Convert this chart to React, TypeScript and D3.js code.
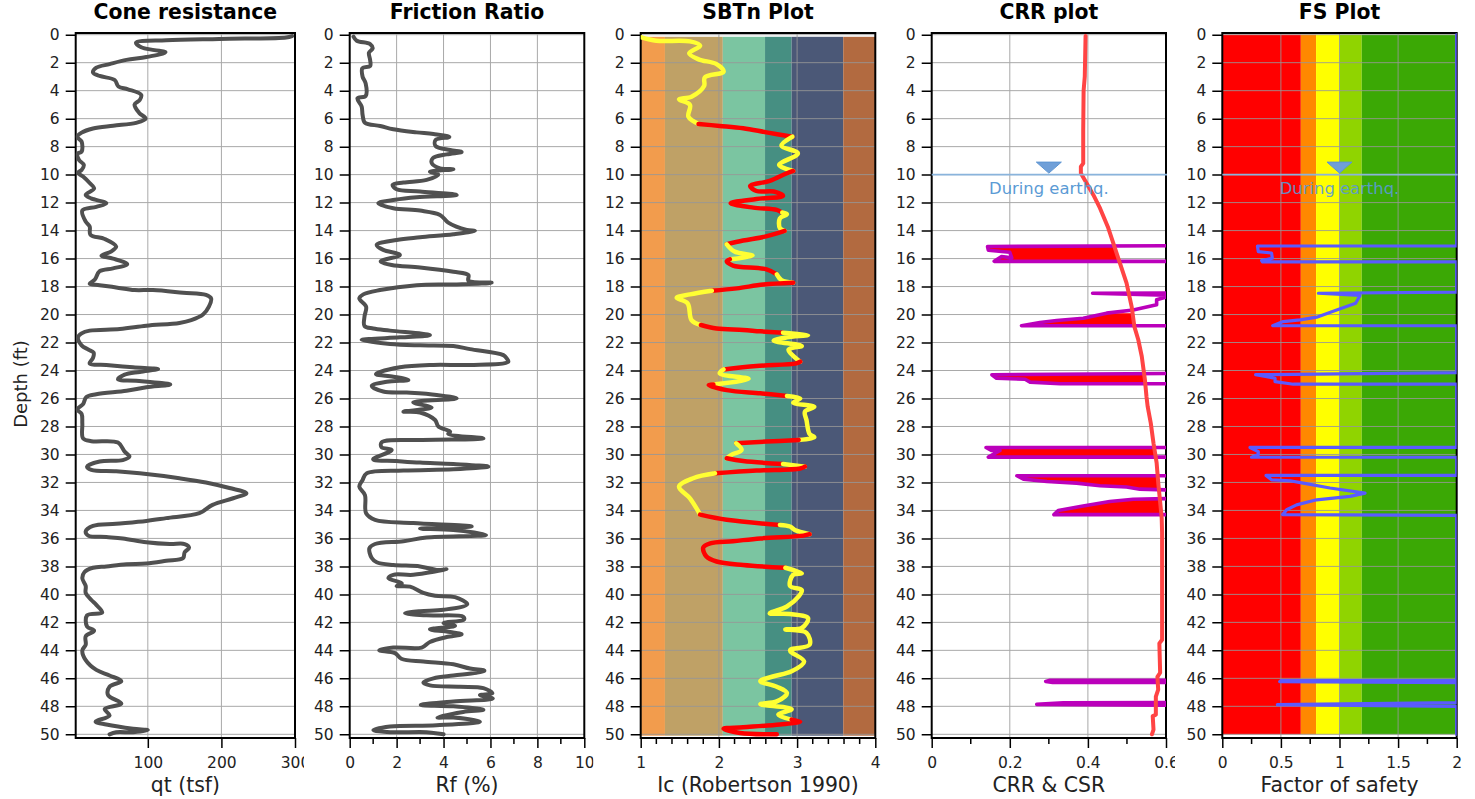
import React, { useEffect, useRef } from "react";
import * as d3 from "d3";

// traces are [value, depth ft] pairs
const qtTrace = [
  [296,0.1],[288,0.2],[197,0.3],[125,0.4],[84,0.57],[91,0.9],[109,1.1],[124,1.26],[98,1.6],[71,1.8],[48,2.1],[30,2.36],[25.5,2.7],[34.5,2.95],[55,3.24],[60,3.7],[73,3.9],[91,4.3],[89,4.67],[82,5],[88,5.57],[97,6],[84,6.3],[53,6.5],[25.5,6.7],[10,7],[4,7.3],[10,7.64],[10,8.36],[4.3,8.5],[6.5,8.95],[13,9.3],[10,9.67],[5,9.86],[12,10.14],[21,10.6],[27,11],[15.6,11.45],[23,11.7],[43.6,12.05],[30,12.3],[11,12.57],[15.6,13.36],[21,13.7],[22,14.3],[41.4,14.6],[57,15.14],[50,15.5],[37,15.8],[52.7,16],[72,16.4],
  [52.7,16.7],[34.6,16.9],[28,17.5],[21,17.8],[34.5,17.9],[57,18.06],[82,18.25],[107,18.25],[148,18.44],[179,18.6],[186,18.85],[183,19.44],[175,20],[159,20.4],[143,20.6],[98,20.8],[62,21.04],[21,21.15],[10,21.35],[5,21.63],[10,22.2],[19,22.5],[26.4,22.73],[25.5,23.1],[21,23.5],[43.6,23.6],[80,23.77],[114,23.9],[89,24.1],[68.5,24.3],[59.5,24.63],[84,24.73],[130.5,25],[98,25.2],[71,25.45],[30,25.7],[16.5,25.9],[12,26.4],[4,26.8],[10,27.1],[11,27.8],[12,28.85],[23.3,29.05],[59.5,29.15],[68.5,29.8],[75,30.15],[66,30.4],[34.6,30.5],[17.4,30.87],[23.3,31.1],[57,31.2],[89,31.35],[143,31.7],[179,32],[211,32.4],[234,32.77],[216,33.13],[188,33.6],[170,34.2],[125,34.55],[98,34.75],[57,34.95],[25.5,35.1],
  [15.6,35.5],[19,35.8],[43.6,35.9],[66,36],[98,36.27],[130,36.4],[150,36.4],[156,36.66],[150,37],[148,37.4],[125,37.6],[98,37.8],[71,37.85],[43.6,38],[25.5,38.1],[14,38.4],[11,38.85],[15.6,39.4],[15.6,39.9],[23.3,40.4],[30,40.75],[38,41.3],[17.4,41.5],[17.4,42.3],[27,42.6],[15.6,43],[15.6,43.6],[11,44],[15.6,44.7],[30,45.4],[48,45.8],[64,46.2],[48,46.6],[46,47.2],[64,47.8],[41.4,48.2],[48,48.65],[29,49.1],[43.6,49.3],[80,49.6],[100,49.7],[80,49.85],[57,49.85],[48,50],
];

const rfTrace = [
  [0.16,0.14],[0.3,0.43],[0.87,0.67],[0.98,0.98],[0.82,1.29],[0.87,1.8],[0.87,2.24],[0.54,2.4],[0.55,3],[0.68,3.48],[0.68,4.38],[0.33,4.55],[0.51,5.14],[0.55,5.74],[0.65,6.29],[1.3,6.52],[1.86,6.76],[2.85,6.98],[3.57,7.1],[4.25,7.31],[3.66,7.52],[3.66,7.95],[4.28,8.24],[4.77,8.38],[4.13,8.55],[3.54,8.83],[3.5,9.19],[3.85,9.55],[4.42,9.62],[3.42,9.79],[3.78,10],[3.28,10.38],[2.29,10.57],[1.83,10.74],[2,11.05],[3,11.2],[4.56,11.45],[2.86,11.62],[1.93,11.8],[1.22,12.05],[1.86,12.4],[3,12.57],[3.85,12.88],[4.2,13.43],[4.99,13.95],[5.34,14.02],[4.42,14.26],[3,14.48],[2,14.67],[1.15,15.02],[1.43,15.38],[2.14,15.74],[1.32,16.2],
  [1.79,16.46],[3,16.63],[4.42,16.94],[5.06,17.18],[5.06,17.58],[6.05,17.73],[4.42,17.85],[2.86,17.9],[1.29,18.25],[0.58,18.56],[0.41,18.85],[0.7,19.44],[0.63,20.15],[0.63,20.82],[1,21],[1.72,21.15],[3.42,21.47],[2.14,21.63],[0.51,21.83],[1.72,22.1],[3,22.2],[4.42,22.25],[5.13,22.47],[6.55,22.9],[6.69,23.13],[6.76,23.37],[5.13,23.6],[3.57,23.6],[2.14,23.77],[1.12,24.25],[1.86,24.44],[2.5,24.68],[1.58,24.8],[0.94,25.1],[1.43,25.5],[2.43,25.58],[3.71,25.75],[4.56,26],[2.71,26.27],[3.49,26.65],[2.29,26.94],[3,27],[3.64,27.54],[3.78,28],[4.28,28.37],[4.2,28.53],[5.7,28.85],[3,28.96],[1.36,29.13],[1.36,29.49],[1.79,29.68],[1,30.35],[2,30.47],[3,30.58],[4.42,30.68],[5.91,30.87],[4.42,31.06],[2.29,31.15],[0.72,31.35],[0.55,31.82],[0.41,32.3],[0.65,32.9],[0.7,34.2],[1.08,34.67],[2.71,34.9],[5.2,35.15],[3,35.3],[4.42,35.4],[5.81,35.75],
  [3.28,35.94],[2.29,36.2],[1.08,36.4],[0.84,36.7],[0.94,37.4],[1.15,37.7],[1.86,37.9],[3,38],[3.71,38.25],[4.13,38.2],[2.71,38.6],[1.86,38.6],[1.65,38.85],[2.22,39.2],[2,39.4],[2.57,39.45],[3.14,39.9],[3.64,40.1],[4.49,40.2],[5.01,40.7],[4,41.1],[3,41.2],[2.36,41.35],[3.28,41.5],[4.84,41.6],[4.87,41.8],[4,42.05],[4.49,42.25],[3.42,42.5],[4.35,42.7],[4.77,42.85],[4.13,43.05],[3.42,43.4],[3.07,43.8],[1.86,43.8],[1.26,44],[1.93,44.2],[2.2,44.6],[3.14,44.8],[4.42,45],[5.13,45.3],[5.74,45.45],[5.4,45.6],[4.42,45.8],[3.57,46],[3.14,46.3],[3.42,46.5],[4.7,46.6],[5.7,46.7],[6.08,47.07],[5.55,47.2],[6.1,47.45],[4.42,47.65],[3.03,47.9],[4.42,48],[5.7,48.25],[4.84,48.4],[3.74,48.8],[4.42,48.8],[5.55,49.1],[3.7,49.35],[1.72,49.45],[1.01,49.7],[1.72,49.85],[3.28,49.85],[4,50],
];

const icTrace = [
  [1.01,0.19],[1.2,0.43],[1.63,0.48],[1.76,0.79],[1.62,1.33],[1.74,1.76],[1.97,2.1],[2.06,2.64],[1.82,3.05],[1.81,3.67],[1.65,4.43],[1.49,4.62],[1.63,5.02],[1.61,5.86],[1.74,6.38],[2.01,6.52],[2.31,6.69],[2.61,6.98],[2.94,7.29],[2.8,7.93],[3.01,8.48],[2.77,9.31],[2.95,9.74],[2.87,9.9],[2.65,10.45],[2.4,10.81],[2.48,11.17],[2.7,11.21],[2.82,11.52],[2.48,11.74],[2.15,12.05],[2.44,12.36],[2.74,12.52],[2.81,12.71],[2.87,12.83],[2.78,13.12],[2.78,13.83],[2.84,14.02],[2.59,14.43],[2.31,14.71],[2.1,14.98],[2.2,15.5],[2.43,15.79],[2.14,16.05],[2.1,16.2],[2.18,16.5],[2.61,16.77],[2.74,17.13],[2.8,17.54],[2.95,17.73],[2.57,17.86],[2.23,18.13],[1.91,18.3],[1.63,18.56],[1.46,18.8],[1.6,19.2],[1.65,20.4],[1.77,20.75],[1.97,21],[2.31,21.1],[2.53,21.2],[2.82,21.3],[3.14,21.47],[2.87,21.63],[2.7,21.87],[3.06,22.25],[2.89,22.5],[3.04,23.37],[2.99,23.49],[2.48,23.68],[2.06,23.92],[2.01,24.2],[2.38,24.6],[1.93,25],[1.87,25.04],[2.1,25.4],[2.53,25.63],[2.87,25.82],[3.04,26],[2.95,26.3],[3.22,26.6],[3.1,26.94],[3.12,27.54],[3.16,28.54],[3.22,28.77],[3.02,28.96],[2.61,29.08],[2.22,29.2],[2.29,29.68],[2.16,30.03],[2.1,30.27],[2.31,30.47],[2.82,30.68],[3.1,30.87],[3.04,31],[2.48,31.15],[1.95,31.35],[1.67,31.7],[1.49,32.3],[1.63,33.13],[1.76,34.3],[2.1,34.67],[2.78,35.04],[2.91,35.15],[2.97,35.4],[3.16,35.7],[3.08,35.8],[2.53,36],[2.18,36.2],[1.89,36.35],[1.8,36.65],[1.84,37.3],[1.97,37.65],[2.31,37.9],[2.85,38.1],[3.06,38.5],[2.95,38.6],[2.91,39.4],[3.06,39.7],[3.02,40.15],[2.87,40.87],[2.65,41.35],[2.91,41.4],[3.14,41.7],[3.06,42.4],[2.85,42.5],[3.12,42.75],[3.16,43.6],[2.91,44],[3.09,44.8],[2.93,45.5],[2.69,45.87],[2.53,46.2],[2.74,46.6],[2.87,47.05],[2.74,47.65],[2.53,47.85],[2.93,48.2],[2.76,48.6],[2.93,48.95],[3.04,49.1],[2.78,49.3],[2.31,49.5],[2.06,49.6],[2.27,49.9],[2.74,50],
];

// depth ranges where the Ic trace is red, yellow everywhere else
const icRedRanges = [[6.38,7.29],[9.74,12.71],[14.02,14.98],[16.05,17.13],[17.73,18.3],[20.75,21.3],[23.37,23.92],[25,25.82],[28.96,29.2],[30.27,30.68],[30.87,31.35],[34.3,35.04],[35.7,38.1],[48.95,50]];

const csrTrace = [
  [0.394,0.1],[0.392,3],[0.389,4],[0.388,6.8],[0.388,9.2],[0.382,9.43],[0.382,9.9],[0.392,10.38],[0.414,11.45],[0.431,12.4],[0.452,13.8],[0.465,14.9],[0.482,16.33],[0.499,17.76],[0.512,19.43],[0.519,20.86],[0.529,21.8],[0.538,23],[0.546,24.67],[0.55,25.86],[0.553,26.57],[0.561,27.76],[0.568,29.2],[0.576,30.6],[0.58,32],[0.585,33.4],[0.589,34.55],[0.59,35.6],[0.59,43.24],[0.583,43.5],[0.585,45.6],[0.578,45.9],[0.58,46.8],[0.574,47.3],[0.574,48.6],[0.566,48.7],[0.568,49.67],[0.564,50],
];

// 0.7 stands for values that run off the 0-0.6 axis
const crrTrace = [
  [0.7,15.07],[0.143,15.14],[0.145,15.4],[0.2,15.55],[0.205,15.95],[0.179,15.85],[0.16,16.2],[0.7,16.2],
  [0.7,18.45],[0.412,18.48],[0.7,18.7],[0.6,18.75],[0.576,18.95],[0.576,19.3],[0.516,19.67],[0.448,19.9],[0.388,20.26],[0.32,20.43],[0.277,20.57],[0.23,20.8],[0.7,20.8],
  [0.7,24.2],[0.154,24.3],[0.166,24.55],[0.239,24.62],[0.252,24.83],[0.329,24.95],[0.7,24.95],
  [0.7,29.5],[0.139,29.5],[0.154,29.72],[0.175,29.72],[0.145,30.19],[0.7,30.19],
  [0.7,31.52],[0.218,31.52],[0.235,31.76],[0.295,31.93],[0.371,32.05],[0.431,32.24],[0.499,32.33],[0.533,32.48],[0.7,32.6],
  [0.7,33.1],[0.516,33.2],[0.456,33.36],[0.384,33.7],[0.324,34],[0.313,34.3],[0.7,34.3],
  [0.7,46.14],[0.303,46.14],[0.292,46.22],[0.31,46.3],[0.7,46.3],
  [0.7,47.72],[0.337,47.74],[0.269,47.86],[0.7,47.94],
];

const fsTrace = [
  [2,0],[2,15.1],[0.3,15.1],[0.307,15.5],[0.42,15.6],[0.427,15.98],[0.335,16.14],[0.344,16.24],[2,16.24],[2,18.4],[0.82,18.48],[1.175,18.64],[1.138,19.2],[0.976,19.67],[0.805,20.19],[0.663,20.38],[0.52,20.5],[0.43,20.8],[2,20.8],[2,24.15],[0.284,24.3],[0.45,24.55],[0.45,24.8],[0.606,24.98],[2,24.98],[2,29.5],[0.236,29.5],[0.307,29.8],[0.307,30],[0.25,30.2],[2,30.2],[2,31.5],[0.373,31.5],[0.42,31.81],[0.578,31.88],[0.69,32.05],[0.919,32.4],[1.218,32.76],[1.09,33],[0.805,33.24],[0.634,33.6],[0.549,33.95],[0.515,34.3],[2,34.35],[2,46.14],[0.5,46.16],[0.49,46.24],[2,46.3],[2,47.74],[0.47,47.88],[2,48],[2,50],
];

const icBandEdges = [1, 1.31, 2.05, 2.59, 2.93, 3.59, 4];
const icBandColors = ["#f29c4d", "#bfa166", "#7bc5a1", "#468f82", "#4b5877", "#b26a40"];
const fsBandEdges = [0, 0.67, 0.8, 1, 1.19, 2];
const fsBandColors = ["#ff0000", "#ff8800", "#ffff00", "#90d400", "#3ba805"];

const depthTicks = d3.range(0, 51, 2);
const waterDepth = 10;

const FONT = "'DejaVu Sans', Verdana, sans-serif";
const TOP = 33;
const BOTTOM = 738;
const depthScale = d3.scaleLinear().domain([0, 50]).range([34.7, 734.3]);

const panels = [
  { id: "qt", title: "Cone resistance", xLabel: "qt (tsf)", domain: [2, 300], range: [75.7, 295], ticks: [100, 200, 300], minor: [] },
  { id: "rf", title: "Friction Ratio", xLabel: "Rf (%)", domain: [0, 10], range: [349.7, 584.3], ticks: [0, 2, 4, 6, 8, 10], minor: [1, 3, 5, 7, 9] },
  { id: "ic", title: "SBTn Plot", xLabel: "Ic (Robertson 1990)", domain: [1, 4], range: [640.7, 875.3], ticks: [1, 2, 3, 4], minor: d3.range(1, 4, 0.2).filter((d) => Math.abs(d - Math.round(d)) > 0.01) },
  { id: "crr", title: "CRR plot", xLabel: "CRR & CSR", domain: [0, 0.6], range: [931.7, 1166], ticks: [0, 0.2, 0.4, 0.6], minor: [0.1, 0.3, 0.5] },
  { id: "fs", title: "FS Plot", xLabel: "Factor of safety", domain: [0, 2], range: [1222.3, 1456.7], ticks: [0, 0.5, 1, 1.5, 2], minor: [0.25, 0.75, 1.25, 1.75] },
];

export default function App() {
  const svgRef = useRef(null);

  useEffect(() => {
    const svg = d3.select(svgRef.current);
    svg.selectAll("*").remove();
    const defs = svg.append("defs");

    panels.forEach((p) => {
      const x = d3.scaleLinear().domain(p.domain).range(p.range);
      const y = depthScale;
      const [left, right] = p.range;
      const mid = (left + right) / 2;

      defs.append("clipPath").attr("id", `panel-${p.id}`).append("rect")
        .attr("x", left - 75).attr("y", 0).attr("width", right - left + 84).attr("height", 799);
      defs.append("clipPath").attr("id", `plot-${p.id}`).append("rect")
        .attr("x", left).attr("y", TOP).attr("width", right - left).attr("height", BOTTOM - TOP);

      const g = svg.append("g").attr("clip-path", `url(#panel-${p.id})`);

      // background zones
      if (p.id === "ic") {
        g.selectAll("rect.band").data(icBandColors).join("rect").attr("class", "band")
          .attr("x", (d, i) => x(icBandEdges[i]))
          .attr("width", (d, i) => x(icBandEdges[i + 1]) - x(icBandEdges[i]))
          .attr("y", y(0.15)).attr("height", y(50.1) - y(0.15))
          .attr("fill", (d) => d);
      }
      if (p.id === "fs") {
        g.selectAll("rect.band").data(fsBandColors).join("rect").attr("class", "band")
          .attr("x", (d, i) => x(fsBandEdges[i]))
          .attr("width", (d, i) => x(fsBandEdges[i + 1]) - x(fsBandEdges[i]))
          .attr("y", y(0)).attr("height", y(50) - y(0))
          .attr("fill", (d) => d);
      }

      // grid
      const gridColor = p.id === "ic" || p.id === "fs" ? "rgba(150,150,150,0.85)" : "#a9a9a9";
      g.append("g").selectAll("line").data(depthTicks).join("line")
        .attr("x1", left).attr("x2", right)
        .attr("y1", (d) => y(d)).attr("y2", (d) => y(d))
        .attr("stroke", gridColor).attr("stroke-width", 1);
      g.append("g").selectAll("line").data(p.ticks.filter((t) => t !== p.domain[0] && t !== p.domain[1])).join("line")
        .attr("x1", (d) => x(d)).attr("x2", (d) => x(d))
        .attr("y1", TOP).attr("y2", BOTTOM)
        .attr("stroke", gridColor).attr("stroke-width", 1);

      // axes
      const leftAxis = g.append("g").attr("transform", `translate(${left},0)`)
        .call(d3.axisLeft(y).tickValues(depthTicks).tickSize(10).tickPadding(6).tickFormat((d) => String(d)));
      const bottomAxis = g.append("g").attr("transform", `translate(0,${BOTTOM})`)
        .call(d3.axisBottom(x).tickValues(p.ticks).tickSize(10).tickPadding(9).tickFormat((d) => String(d)));
      [leftAxis, bottomAxis].forEach((a) => {
        a.select(".domain").remove();
        a.selectAll("line").attr("stroke", "#000").attr("stroke-width", 1.5);
        a.selectAll("text").attr("fill", "#222").style("font-family", FONT).style("font-size", "15.5px");
      });
      g.append("g").selectAll("line").data(p.minor).join("line")
        .attr("x1", (d) => x(d)).attr("x2", (d) => x(d))
        .attr("y1", BOTTOM).attr("y2", BOTTOM + 6)
        .attr("stroke", "#000").attr("stroke-width", 1.5);

      // frame
      g.append("path")
        .attr("d", `M${left},${TOP}H${right}V${BOTTOM}H${left}Z`)
        .attr("fill", "none").attr("stroke", "#000").attr("stroke-width", 2);

      // traces
      const plot = g.append("g").attr("clip-path", `url(#plot-${p.id})`);
      const line = d3.line().x((d) => x(d[0])).y((d) => y(d[1]));
      const smooth = d3.line().x((d) => x(d[0])).y((d) => y(d[1])).curve(d3.curveCatmullRom.alpha(0.5));
      const drawTrace = (data, color, width, shape = line) =>
        plot.append("path").attr("d", shape(data))
          .attr("fill", "none").attr("stroke", color).attr("stroke-width", width)
          .attr("stroke-linejoin", "round").attr("stroke-linecap", "round");

      if (p.id === "qt") drawTrace(qtTrace, "#505050", 4, smooth);
      if (p.id === "rf") drawTrace(rfTrace, "#505050", 4, smooth);
      if (p.id === "ic") {
        const isRed = (d) => icRedRanges.some((r) => d >= r[0] && d <= r[1]);
        let run = [icTrace[0]];
        let runRed = isRed((icTrace[0][1] + icTrace[1][1]) / 2);
        for (let i = 1; i < icTrace.length; i++) {
          run.push(icTrace[i]);
          const next = icTrace[i + 1];
          const nextRed = next ? isRed((icTrace[i][1] + next[1]) / 2) : runRed;
          if (!next || nextRed !== runRed) {
            drawTrace(run, runRed ? "#ff0000" : "#ffff33", 4.5, smooth);
            run = [icTrace[i]];
            runRed = nextRed;
          }
        }
      }
      if (p.id === "crr") {
        const csrAt = d3.scaleLinear().domain(csrTrace.map((d) => d[1])).range(csrTrace.map((d) => d[0]));
        const area = d3.area()
          .defined((d) => d[0] < csrAt(d[1]))
          .x0((d) => x(d[0])).x1((d) => x(csrAt(d[1]))).y((d) => y(d[1]));
        plot.append("path").attr("d", area(crrTrace)).attr("fill", "#ff0000");
        drawTrace(crrTrace, "#bb00bb", 3.6);
        drawTrace(csrTrace, "#ff4444", 4);
      }

      // water table marker
      if (p.id === "crr" || p.id === "fs") {
        const markX = p.id === "crr" ? x(0.3) : x(1);
        g.append("line").attr("x1", left).attr("x2", right + 1)
          .attr("y1", y(waterDepth)).attr("y2", y(waterDepth))
          .attr("stroke", "#8ab4dc").attr("stroke-width", 1.6);
        g.append("path")
          .attr("d", d3.line()([[markX - 12.5, y(waterDepth) - 12.5], [markX + 12.5, y(waterDepth) - 12.5], [markX, y(waterDepth) - 1.5]]) + "Z")
          .attr("fill", "#6f9fd8").attr("stroke", "#5b94d2").attr("stroke-width", 1);
        g.append("text").attr("x", markX).attr("y", y(waterDepth) + 19.5)
          .attr("text-anchor", "middle").attr("fill", "#5b9bd5").attr("opacity", p.id === "fs" ? 0.9 : 1)
          .style("font-family", FONT).style("font-size", "16.4px")
          .text("During earthq.");
      }

      if (p.id === "fs") drawTrace(fsTrace, "#5a5aff", 3.2).attr("clip-path", null);

      // labels
      g.append("text").attr("x", mid).attr("y", 19)
        .attr("text-anchor", "middle").attr("fill", "#000")
        .style("font-family", FONT).style("font-size", "20.4px").style("font-weight", "bold")
        .text(p.title);
      g.append("text").attr("x", mid).attr("y", 792)
        .attr("text-anchor", "middle").attr("fill", "#222")
        .style("font-family", FONT).style("font-size", "20.4px")
        .text(p.xLabel);
    });

    svg.append("text")
      .attr("transform", "translate(27,384) rotate(-90)")
      .attr("text-anchor", "middle").attr("fill", "#222")
      .style("font-family", FONT).style("font-size", "18px")
      .text("Depth (ft)");
  }, []);

  return (
    <svg
      ref={svgRef}
      width={1475}
      height={799}
      style={{ position: "absolute", left: 0, top: 0, display: "block", background: "#fff" }}
    ></svg>
  );
}
